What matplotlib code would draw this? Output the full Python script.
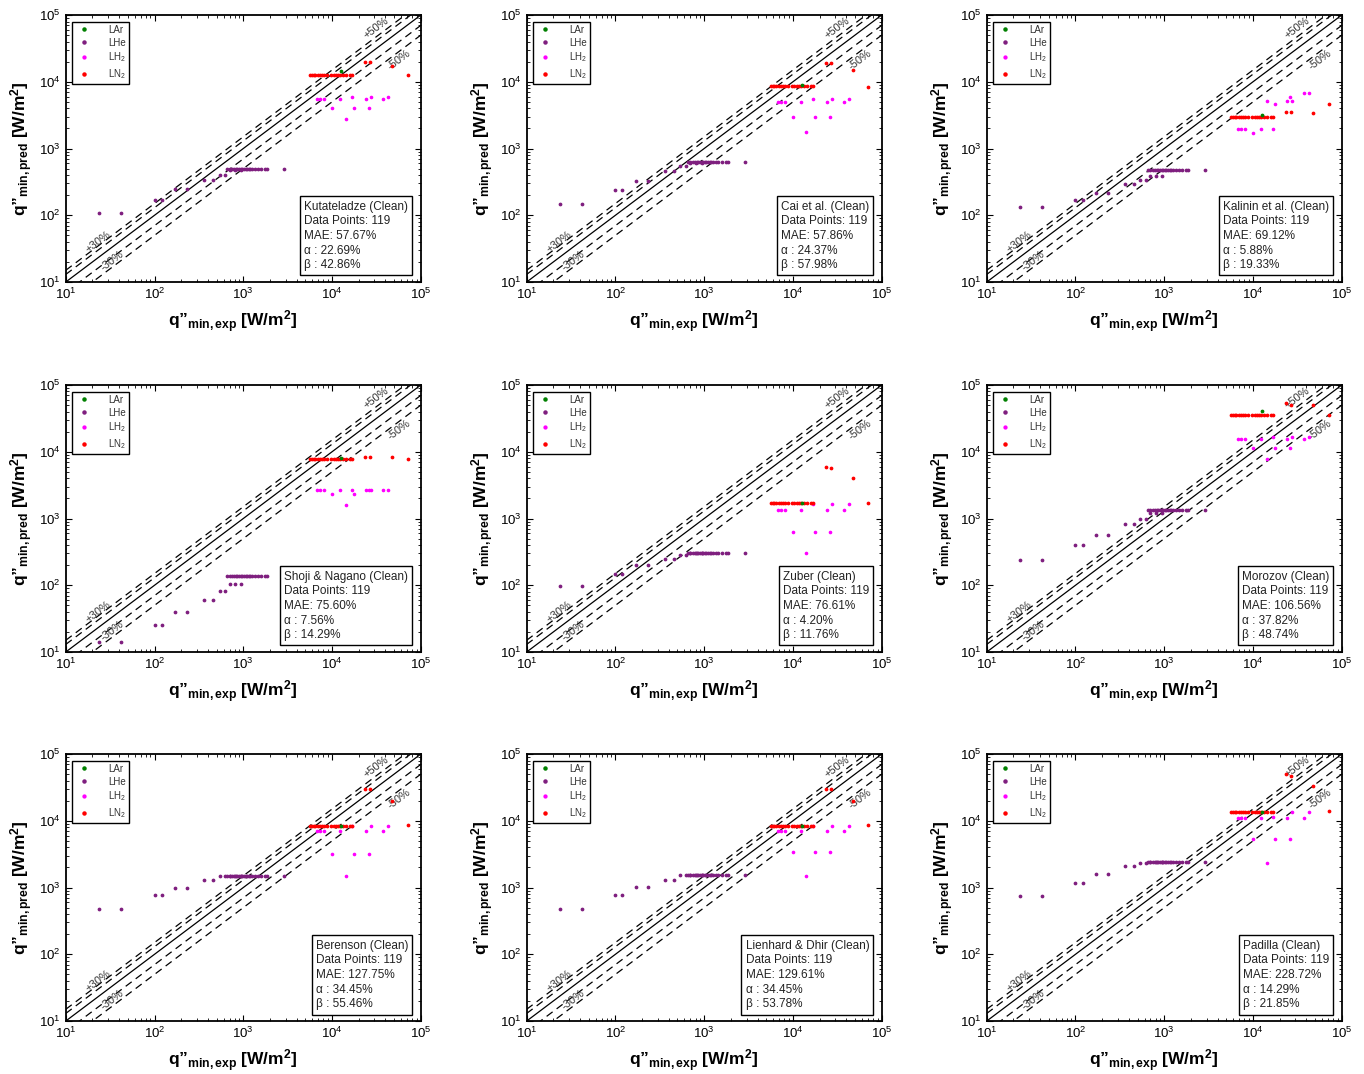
import matplotlib
matplotlib.use("Agg")
import matplotlib.pyplot as plt
import numpy as np

plt.rcParams['font.family'] = ['Liberation Sans', 'DejaVu Sans']
plt.rcParams['mathtext.fontset'] = 'custom'
plt.rcParams['mathtext.rm'] = 'Liberation Sans'
plt.rcParams['mathtext.it'] = 'Liberation Sans:italic'
plt.rcParams['mathtext.bf'] = 'Liberation Sans:bold'

# correlation names and statistics printed in the boxes
models = ["Kutateladze (Clean)", "Cai et al. (Clean)", "Kalinin et al. (Clean)",
          "Shoji & Nagano (Clean)", "Zuber (Clean)", "Morozov (Clean)",
          "Berenson (Clean)", "Lienhard & Dhir (Clean)", "Padilla (Clean)"]
n_points = [119] * 9
mae = [57.67, 57.86, 69.12, 75.60, 76.61, 106.56, 127.75, 129.61, 228.72]
alpha = [22.69, 24.37, 5.88, 7.56, 4.20, 37.82, 34.45, 34.45, 14.29]
beta = [42.86, 57.98, 19.33, 14.29, 11.76, 48.74, 55.46, 53.78, 21.85]

# experimental q"min (W/m2), same in every panel
# LHe: groups of points that share one predicted value
lhe_x = [[24, 42], [100, 120], [170, 235], [360, 460], [540, 620],
         [700, 800, 950],
         [650, 700, 740, 780, 820, 860, 900, 940, 980, 1020, 1060, 1100,
          1150, 1200, 1250, 1350, 1450, 1600, 1750, 1850, 2900]]
lh2_x = [6800, 7400, 8100, 10000, 12300, 14200, 17000, 17900, 24000, 26000,
         27500, 38000, 43000]
# LN2: one dense cluster, then four single points
ln2_cluster_x = [5600, 5900, 6200, 6500, 6900, 7300, 7700, 8200, 8800, 9800,
                 10400, 11000, 11600, 12400, 13200, 14500, 16000, 17000]
ln2_single_x = [23500, 27000, 47000, 71000]
lar_x = [12600]

# predicted q"min per panel
lhe_pred = [
    [110, 170, 250, 335, 400, 480, 500],
    [150, 243, 330, 455, 540, 600, 620],
    [133, 168, 216, 290, 335, 390, 475],
    [14, 25, 40, 61, 82, 105, 136],
    [97, 150, 200, 250, 280, 300, 305],
    [237, 407, 562, 822, 1000, 1190, 1365],
    [473, 768, 1000, 1290, 1500, 1500, 1500],
    [480, 780, 1030, 1320, 1520, 1520, 1520],
    [750, 1190, 1600, 2110, 2300, 2400, 2430],
]
lh2_pred = [
    [5600, 5600, 5600, 4000, 5600, 2800, 6000, 4000, 5600, 4000, 6000, 5600, 6000],
    [5000, 5000, 5000, 3000, 5000, 1750, 5600, 3000, 5000, 3000, 5600, 5000, 5600],
    [1930, 1930, 1930, 1720, 1930, 5200, 1930, 4700, 5200, 6000, 5200, 6700, 6700],
    [2660, 2660, 2660, 2370, 2660, 1580, 2660, 2370, 2660, 2660, 2660, 2660, 2660],
    [1365, 1365, 1365, 630, 1365, 305, 1640, 630, 1365, 630, 1640, 1365, 1640],
    [15800, 15800, 15800, 11200, 15800, 7900, 16800, 11200, 15800, 11200, 16800, 15800, 16800],
    [7000, 7000, 7000, 3130, 7000, 1500, 8400, 3130, 7000, 3130, 8400, 7000, 8400],
    [7000, 7000, 7000, 3400, 7000, 1500, 8400, 3400, 7000, 3400, 8400, 7000, 8400],
    [11000, 11000, 11000, 5300, 11000, 2300, 11500, 5300, 11000, 5300, 13600, 11000, 13600],
]
ln2_cluster_pred = [12600, 8600, 3000, 7900, 1680, 35500, 8500, 8500, 13600]
ln2_single_pred = [
    [20000, 20000, 17500, 12600],
    [18800, 18800, 15000, 8400],
    [3550, 3550, 3400, 4600],
    [8400, 8400, 8400, 7900],
    [5960, 5800, 4070, 1680],
    [53000, 50000, 50000, 35000],
    [30000, 30000, 20000, 8700],
    [30000, 30000, 20000, 8600],
    [50000, 47000, 33500, 13800],
]
lar_pred = [14500, 9100, 3160, 8200, 1680, 41000, 8500, 8500, 13600]

# layout (figure fractions)
col_left = [0.0482, 0.3861, 0.7234]
row_bottom = [0.7374, 0.3929, 0.0493]
ax_w, ax_h = 0.2603, 0.2486

fig = plt.figure(figsize=(13.64, 10.74), dpi=100)
xx = np.array([10.0, 1e5])
dash = (0, (6, 4))
band_txt = dict(fontsize=8, rotation=37, rotation_mode='anchor',
                ha='center', va='center', color='#333333', zorder=2)

for k in range(9):
    r, c = divmod(k, 3)
    ax = fig.add_axes([col_left[c], row_bottom[r], ax_w, ax_h])
    ax.set_xscale('log')
    ax.set_yscale('log')
    ax.set_xlim(10, 1e5)
    ax.set_ylim(10, 1e5)

    # parity line and error bands
    ax.plot(xx, xx, color='k', lw=0.9, zorder=1)
    for f in (1.3, 1.5, 0.7, 0.5):
        ax.plot(xx, f * xx, color='k', lw=0.9, ls=dash, zorder=1)
    ax.text(23, 40, "+30%", **band_txt)
    ax.text(33, 21, "-30%", **band_txt)
    ax.text(31600, 63000, "+50%", **band_txt)
    ax.text(57000, 21600, "-50%", **band_txt)

    # data
    hx, hy = [], []
    for g, xs in enumerate(lhe_x):
        hx += xs
        hy += [lhe_pred[k][g]] * len(xs)
    nx = ln2_cluster_x + ln2_single_x
    ny = [ln2_cluster_pred[k]] * len(ln2_cluster_x) + ln2_single_pred[k]

    ax.plot(lar_x, [lar_pred[k]], 'o', color='green', ms=1.7, label='LAr', zorder=4)
    ax.plot(hx, hy, 'o', color='#7f1f7f', ms=1.7, label='LHe', zorder=3)
    ax.plot(lh2_x, lh2_pred[k], 'o', color='#ff00ff', ms=1.6, label='LH$_2$', zorder=3)
    ax.plot(nx, ny, 'o', color='red', ms=1.7, label='LN$_2$', zorder=3)

    leg = ax.legend(loc='upper left', bbox_to_anchor=(0.018, 0.975), borderaxespad=0,
                    fontsize=7, frameon=True, fancybox=False, edgecolor='k',
                    handletextpad=1.6, labelspacing=0.3, borderpad=0.3,
                    handlelength=1.8, markerscale=1.3, framealpha=1)
    leg.get_frame().set_linewidth(1.0)
    for t in leg.get_texts():
        t.set_color('#333333')

    info = "%s\nData Points: %d\nMAE: %.2f%%\n\u03b1 : %.2f%%\n\u03b2 : %.2f%%" % (
        models[k], n_points[k], mae[k], alpha[k], beta[k])
    ax.text(0.965, 0.04, info, transform=ax.transAxes, ha='right', va='bottom',
            multialignment='left', fontsize=8.5, linespacing=1.3, color='#222222',
            bbox=dict(boxstyle='square,pad=0.35', fc='white', ec='k', lw=1.0))

    ax.tick_params(which='both', direction='in', top=True, right=True)
    ax.tick_params(which='major', length=4, labelsize=9.5)
    ax.tick_params(which='minor', length=2)
    for s in ax.spines.values():
        s.set_linewidth(1.3)

    ax.set_xlabel("q\u201d$_{\\mathbf{min,exp}}$ [W/m$^{\\mathbf{2}}$]",
                  fontsize=12.5, fontweight='bold')
    ax.xaxis.set_label_coords(0.47, -0.1)
    ax.set_ylabel("q\u201d$_{\\mathbf{min,pred}}$ [W/m$^{\\mathbf{2}}$]",
                  fontsize=12.5, fontweight='bold', labelpad=3)

fig.savefig("out.png", dpi=100)
